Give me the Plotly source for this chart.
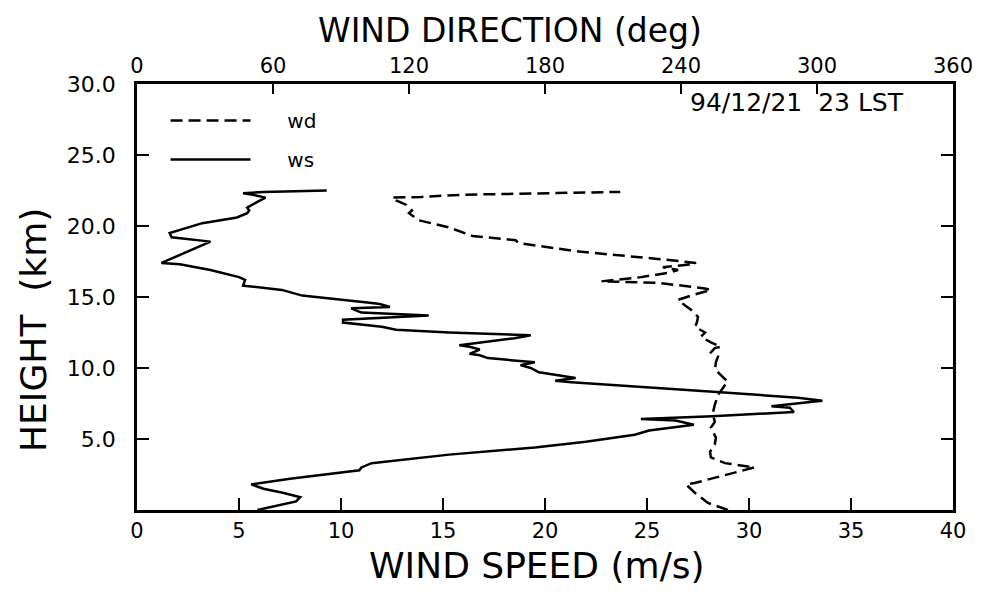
import plotly.graph_objects as go

# Wind speed profile (m/s) vs height (km)
ws_height = [0.0, 0.3, 0.6, 0.9, 1.2, 1.5, 1.8, 2.2, 2.8, 3.0, 3.3, 3.9, 4.4, 4.8, 5.3, 5.6, 6.0, 6.3,
             6.4, 6.6, 6.9, 7.2, 7.3, 7.6, 7.7, 7.9, 8.3, 9.0, 9.1, 9.3, 9.7, 10.0, 10.2, 10.4, 10.5,
             10.7, 10.9, 11.0, 11.3, 11.5, 11.6, 11.8, 12.1, 12.3, 12.35, 12.5, 12.7, 12.9, 13.2,
             13.4, 13.7, 13.9, 14.2, 14.3, 14.5, 14.6, 15.1, 15.5, 15.8, 16.2, 16.4, 16.9, 17.3,
             17.4, 18.9, 19.2, 19.5, 20.2, 20.6, 20.9, 21.1, 21.3, 21.7, 22.0, 22.2, 22.3, 22.4, 22.5]
ws_speed = [5.9, 6.8, 7.8, 8.0, 7.2, 6.2, 5.6, 7.5, 10.9, 11.0, 11.5, 15.3, 19.5, 22.0, 24.4, 25.1, 27.3, 26.4,
            24.7, 28.2, 32.2, 32.0, 31.1, 33.0, 33.6, 32.4, 28.6, 21.3, 20.5, 21.5, 19.7, 19.3, 18.8, 19.5, 18.8,
            17.2, 16.8, 16.3, 16.8, 16.3, 15.8, 16.9, 18.5, 19.3, 18.4, 15.3, 12.7, 12.0, 10.1,
            10.1, 14.3, 11.0, 10.5, 12.4, 11.9, 11.4, 8.1, 7.1, 5.2, 5.3, 5.0, 3.6, 2.1,
            1.2, 3.6, 1.7, 1.6, 3.2, 4.9, 5.4, 5.5, 5.4, 5.9, 6.3, 5.7, 5.2, 6.2, 9.3]

# Wind direction profile (deg) vs height (km)
wd_height = [0.0, 0.5, 1.2, 1.8, 1.9, 3.0, 3.3, 3.7, 4.1, 4.6, 5.1, 5.8, 6.2, 6.8, 7.4, 8.1, 8.8, 9.0, 9.5,
             9.9, 10.4, 10.8, 11.1, 11.4, 11.5, 11.8, 12.2, 12.5, 12.9, 13.2, 13.6, 14.1, 14.4, 14.8,
             15.1, 15.5, 15.6, 16.0, 16.1, 16.4, 16.7, 16.9, 17.1, 17.3, 17.4, 17.7, 18.2, 18.8, 19.0,
             19.3, 19.9, 20.4, 20.9, 21.1, 21.5, 21.8, 22.0, 22.05, 22.2, 22.3, 22.4]
wd_dir = [260.7, 251.9, 246.2, 242.2, 246.0, 272.5, 259.4, 253.2, 252.8, 254.9, 255.4, 253.2, 254.9, 254.0,
          254.9, 256.3, 259.4, 260.7, 257.6, 255.0, 255.4, 256.3, 253.2, 254.9, 257.6, 253.2, 248.8, 250.6,
          246.2, 247.0, 247.5, 244.4, 241.8, 238.7, 244.4, 253.2, 250.6, 229.9, 204.9, 222.4, 234.3, 238.7,
          232.0, 245.0, 246.6, 228.6, 195.0, 168.4, 167.0, 148.0, 137.6, 124.4, 120.0, 121.3, 118.7, 114.3,
          112.5, 125.7, 143.3, 190.0, 213.2]

speed_ticks = [0, 5, 10, 15, 20, 25, 30, 35, 40]
dir_ticks = [0, 60, 120, 180, 240, 300, 360]
height_ticks = [5, 10, 15, 20, 25, 30]
height_labels = ["5.0", "10.0", "15.0", "20.0", "25.0", "30.0"]

FONT = "DejaVu Sans"

fig = go.Figure()
fig.add_trace(go.Scatter(x=wd_dir, y=wd_height, xaxis="x2", yaxis="y", mode="lines", name="     wd",
                         legendgroup="a",
                         line=dict(color="black", width=2.5, dash="12px,6px")))
fig.add_trace(go.Scatter(x=ws_speed, y=ws_height, xaxis="x", yaxis="y", mode="lines", name="     ws",
                         legendgroup="b",
                         line=dict(color="black", width=2.5)))
# invisible trace for right axis ticks
fig.add_trace(go.Scatter(x=[None], y=[None], xaxis="x", yaxis="y2", showlegend=False, hoverinfo="skip"))

axis_common = dict(showgrid=False, zeroline=False, showline=True, linecolor="black", linewidth=2.5,
                   ticks="inside", ticklen=12, tickwidth=2, tickcolor="black")

fig.update_layout(
    width=985, height=592,
    margin=dict(l=137, r=29, t=84, b=82),
    paper_bgcolor="white", plot_bgcolor="white",
    xaxis=dict(range=[0, 40], tickvals=speed_ticks, ticktext=[str(v) for v in speed_ticks],
               tickfont=dict(family=FONT, size=21, color="black"), mirror=False, **axis_common),
    xaxis2=dict(range=[0, 360], overlaying="x", side="top", tickvals=dir_ticks,
                ticktext=[str(v) for v in dir_ticks], anchor="y",
                tickfont=dict(family=FONT, size=21, color="black"), **{**axis_common, "ticklen": 10}),
    yaxis=dict(range=[0, 30], tickvals=height_ticks, ticktext=height_labels, ticklabelstandoff=14,
               tickfont=dict(family=FONT, size=22, color="black"), **axis_common),
    yaxis2=dict(range=[0, 30], overlaying="y", side="right", tickvals=height_ticks, showticklabels=False,
                anchor="x", **axis_common),
    showlegend=True,
    legend=dict(x=0.035, y=0.96, xanchor="left", yanchor="top", bgcolor="rgba(0,0,0,0)",
                font=dict(family=FONT, size=20, color="black"), itemwidth=80, tracegroupgap=10,
                traceorder="grouped"),
    annotations=[
        dict(text="WIND DIRECTION (deg)", xref="paper", yref="paper", x=0.457, y=1.0,
             yshift=84 - 30, showarrow=False, xanchor="center", yanchor="middle",
             font=dict(family=FONT, size=33, color="black")),
        dict(text="WIND SPEED (m/s)", xref="paper", yref="paper", x=0.49, y=0.0,
             yshift=-(565 - 510), showarrow=False, xanchor="center", yanchor="middle",
             font=dict(family=FONT, size=36, color="black")),
        dict(text="HEIGHT  (km)", xref="paper", yref="paper", x=0.0, y=(510 - 330) / 426,
             xshift=-(137 - 33), showarrow=False, xanchor="center", yanchor="middle", textangle=-90,
             font=dict(family=FONT, size=36, color="black")),
        dict(text="94/12/21  23 LST", xref="paper", yref="paper", x=(690 - 137) / 819, y=(510 - 103) / 426,
             showarrow=False, xanchor="left", yanchor="middle",
             font=dict(family=FONT, size=25, color="black")),
    ],
)

fig.write_html("out.html")
